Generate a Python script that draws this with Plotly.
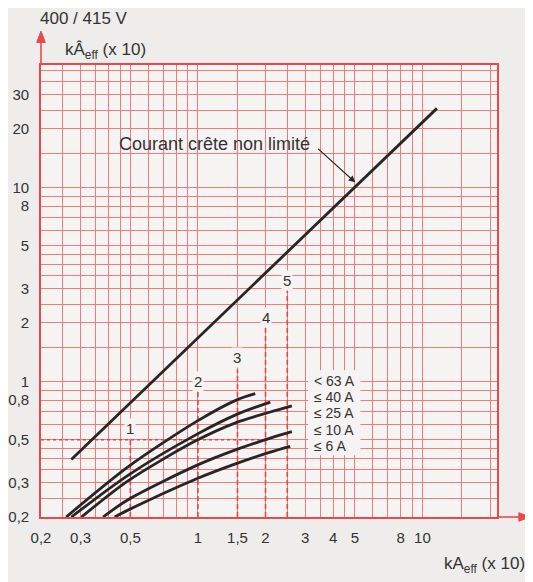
import numpy as np
import plotly.graph_objects as go

# ---------------- data ----------------
x_ticks = [0.2, 0.3, 0.5, 1, 1.5, 2, 3, 4, 5, 8, 10]
x_tick_text = ["0,2", "0,3", "0,5", "1", "1,5", "2", "3", "4", "5", "8", "10"]
y_ticks = [0.2, 0.3, 0.5, 0.8, 1, 2, 3, 5, 8, 10, 20, 30]
y_tick_text = ["0,2", "0,3", "0,5", "0,8", "1", "2", "3", "5", "8", "10", "20", "30"]

x_grid = [0.2, 0.25, 0.3, 0.35, 0.4, 0.45, 0.5, 0.6, 0.7, 0.8, 0.9, 1, 1.5, 2, 2.5,
          3, 3.5, 4, 4.5, 5, 6, 7, 8, 9, 10, 15, 20]
y_grid = [0.2, 0.25, 0.3, 0.35, 0.4, 0.45, 0.5, 0.6, 0.7, 0.8, 0.9, 1, 1.5, 2, 2.5,
          3, 3.5, 4, 4.5, 5, 6, 7, 8, 9, 10, 15, 20, 25, 30, 35, 40]

# unlimited peak current
peak_x = [0.273, 11.6]
peak_y = [0.396, 25.5]
peak_label = "Courant crête non limité"
peak_label_xy = (3.23, 16.8)      # right end of the label
peak_arrow_tip = (5.02, 10.6)

# limited curves by rating
c63_x = [0.259, 0.488, 0.987, 1.49, 1.80]
c63_y = [0.20, 0.3625, 0.622, 0.803, 0.864]
c40_x = [0.273, 0.488, 0.987, 1.49, 2.10]
c40_y = [0.20, 0.328, 0.533, 0.676, 0.782]
c25_x = [0.303, 0.488, 0.987, 1.49, 2.10, 2.62]
c25_y = [0.20, 0.307, 0.4965, 0.615, 0.695, 0.748]
c10_x = [0.378, 0.488, 0.987, 1.49, 2.10, 2.62]
c10_y = [0.20, 0.2455, 0.369, 0.446, 0.5096, 0.5505]
c6_x = [0.426, 0.488, 0.987, 1.49, 2.10, 2.575]
c6_y = [0.20, 0.217, 0.315, 0.378, 0.432, 0.4624]

curve_labels = ["< 63 A", "≤ 40 A", "≤ 25 A", "≤ 10 A", "≤ 6 A"]
curve_label_x = 3.23
curve_label_y = [1.01, 0.832, 0.684, 0.5625, 0.462]

# reading lines 1..5
marker_labels = ["1", "2", "3", "4", "5"]
marker_x = [0.5, 1, 1.5, 2, 2.5]
marker_top = [0.5, 0.88, 1.15, 1.94, 2.94]
marker_label_y = [0.57, 1.0, 1.33, 2.14, 3.29]
ref_level = 0.5
ref_x_end = 2
y_floor = 0.2

# ---------------- style ----------------
PAPER = "#eeedeb"
PLOT = "#f5f4f2"
GRID = "#f07c7c"
AXRED = "#e8494a"
DASH = "#e34848"
INK = "#262626"
TXT = "#333333"
FONT = "Liberation Sans, Arial, sans-serif"

fig = go.Figure()

# white box behind curve labels
bx = [3.10, 5.29, 5.29, 3.10, 3.10]
by = [0.416, 0.416, 1.14, 1.14, 0.416]
fig.add_trace(go.Scatter(x=bx, y=by, fill="toself", fillcolor=PLOT, mode="lines",
                         line=dict(width=0, color=PLOT), hoverinfo="skip", showlegend=False))

# horizontal dotted reference at 0.5
fig.add_trace(go.Scatter(x=[x_grid[0], ref_x_end], y=[ref_level, ref_level], mode="lines",
                         line=dict(color=DASH, width=1.6, dash="dot"), showlegend=False))
# vertical dashed reading lines
for mx, mt in zip(marker_x, marker_top):
    fig.add_trace(go.Scatter(x=[mx, mx], y=[y_floor, mt], mode="lines",
                             line=dict(color=DASH, width=1.6, dash="5px,3px"), showlegend=False))

# curves
for cx, cy in [(c63_x, c63_y), (c40_x, c40_y), (c25_x, c25_y), (c10_x, c10_y), (c6_x, c6_y)]:
    fig.add_trace(go.Scatter(x=cx, y=cy, mode="lines",
                             line=dict(color=INK, width=2.8, shape="spline", smoothing=0.8),
                             showlegend=False))
fig.add_trace(go.Scatter(x=peak_x, y=peak_y, mode="lines",
                         line=dict(color=INK, width=2.8), showlegend=False))

ann = []
# marker labels
for lab, mx, ly in zip(marker_labels, marker_x, marker_label_y):
    ann.append(dict(x=np.log10(mx), y=np.log10(ly), xref="x", yref="y", text=lab,
                    showarrow=False, bgcolor=PLOT, borderpad=1,
                    font=dict(family=FONT, size=15, color=TXT)))
# curve labels
for lab, ly in zip(curve_labels, curve_label_y):
    ann.append(dict(x=np.log10(curve_label_x), y=np.log10(ly), xref="x", yref="y", text=lab,
                    xanchor="left", showarrow=False,
                    font=dict(family=FONT, size=14, color=TXT)))
# peak label with its arrow
ann.append(dict(x=np.log10(peak_arrow_tip[0]), y=np.log10(peak_arrow_tip[1]), xref="x", yref="y",
                ax=np.log10(peak_label_xy[0]), ay=np.log10(peak_label_xy[1]), axref="x", ayref="y",
                text=peak_label, xanchor="right", yanchor="middle",
                showarrow=True, arrowhead=2, arrowsize=1.1, arrowwidth=1.2, arrowcolor=INK,
                startstandoff=8, font=dict(family=FONT, size=18, color=TXT)))
# titles
ann.append(dict(x=-0.007, y=1.102, xref="paper", yref="paper", text="400 / 415 V",
                xanchor="left", yanchor="middle", showarrow=False,
                font=dict(family=FONT, size=17, color=TXT)))
ann.append(dict(x=0.048, y=1.031, xref="paper", yref="paper",
                text="kÂ<sub>eff</sub> (x 10)", xanchor="left", yanchor="middle",
                showarrow=False, font=dict(family=FONT, size=17, color=TXT)))
ann.append(dict(x=1.066, y=-0.106, xref="paper", yref="paper",
                text="kA<sub>eff</sub> (x 10)", xanchor="right", yanchor="middle",
                showarrow=False, font=dict(family=FONT, size=17, color=TXT)))

# axis arrows as shapes (paper coordinates)
shapes = [
    dict(type="line", xref="paper", yref="paper", x0=0, y0=1.0, x1=0, y1=1.06,
         line=dict(color=AXRED, width=1.6)),
    dict(type="path", xref="paper", yref="paper",
         path="M -0.0095 1.050 L 0 1.075 L 0.0095 1.050 Z",
         fillcolor=AXRED, line=dict(color=AXRED, width=1)),
    dict(type="line", xref="paper", yref="paper", x0=1.0, y0=0, x1=1.055, y1=0,
         line=dict(color=AXRED, width=1.6)),
    dict(type="path", xref="paper", yref="paper",
         path="M 1.048 -0.0095 L 1.072 0 L 1.048 0.0095 Z",
         fillcolor=AXRED, line=dict(color=AXRED, width=1)),
]

# page body has an 8px default margin: shrink figure and shift margins to compensate
fig.update_layout(
    width=525, height=574,
    margin=dict(l=33, r=36, t=57, b=65),
    paper_bgcolor=PAPER, plot_bgcolor=PLOT,
    showlegend=False,
    annotations=ann,
    shapes=shapes,
    xaxis=dict(type="log", range=[np.log10(0.2), 1.332], automargin=False,
               tickmode="array", tickvals=x_ticks, ticktext=x_tick_text,
               showgrid=True, gridcolor=GRID, gridwidth=1.2,
               minor=dict(tickmode="array", tickvals=x_grid, showgrid=True,
                          gridcolor=GRID, gridwidth=1.2, ticks=""),
               showline=True, mirror=True, linecolor=AXRED, linewidth=1.6,
               ticks="", ticklabelstandoff=6, zeroline=False,
               tickfont=dict(family=FONT, size=15, color=TXT)),
    yaxis=dict(type="log", range=[np.log10(0.2), 1.63], automargin=False,
               tickmode="array", tickvals=y_ticks, ticktext=y_tick_text,
               showgrid=True, gridcolor=GRID, gridwidth=1.2,
               minor=dict(tickmode="array", tickvals=y_grid, showgrid=True,
                          gridcolor=GRID, gridwidth=1.2, ticks=""),
               showline=True, mirror=True, linecolor=AXRED, linewidth=1.6,
               ticks="", ticklabelstandoff=7, zeroline=False,
               tickfont=dict(family=FONT, size=15, color=TXT)),
)

fig.write_html("out.html")
